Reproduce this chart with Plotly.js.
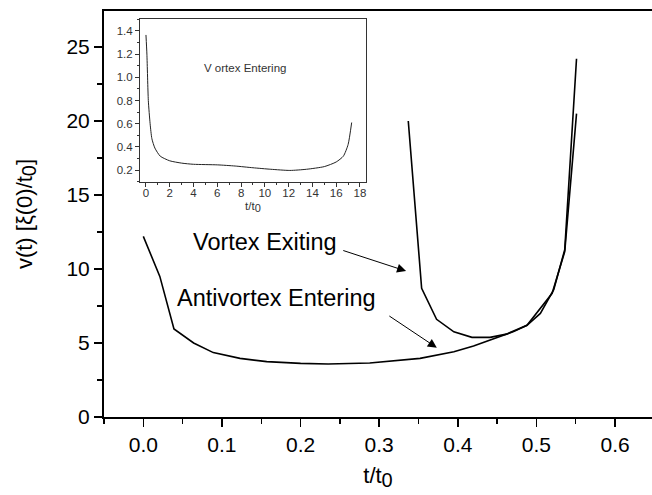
<!DOCTYPE html>
<html>
<head>
<meta charset="utf-8">
<script src="https://cdn.plot.ly/plotly-3.0.1.min.js"></script>
<style>html,body{margin:0;padding:0;background:#fff;}#chart{width:652px;height:495px;}</style>
</head>
<body>
<div id="chart"></div>
<script>
// Antivortex Entering (lower curve)
const antiX = [0, 0.021, 0.039, 0.064, 0.089, 0.123, 0.157, 0.2, 0.235, 0.288, 0.352, 0.395, 0.42, 0.445, 0.471, 0.488, 0.505, 0.522, 0.536, 0.551];
const antiY = [12.2, 9.5, 5.95, 5.0, 4.35, 3.96, 3.74, 3.62, 3.58, 3.65, 3.96, 4.41, 4.8, 5.25, 5.77, 6.2, 7.0, 8.6, 11.3, 24.2];
// Vortex Exiting (U curve)
const exitX = [0.337, 0.345, 0.354, 0.373, 0.395, 0.418, 0.441, 0.462, 0.488, 0.52, 0.536, 0.551];
const exitY = [20.0, 14.9, 8.7, 6.6, 5.75, 5.38, 5.38, 5.6, 6.2, 8.36, 11.17, 20.5];
// Inset: Vortex Entering
const insetX = [0, 0.08, 0.2, 0.35, 0.5, 0.75, 1.2, 2, 3, 4, 6, 7.5, 9, 10.5, 12.1, 13.5, 15, 16, 16.6, 17, 17.3];
const insetY = [1.365, 1.2, 0.8, 0.6, 0.47, 0.39, 0.32, 0.28, 0.26, 0.25, 0.245, 0.235, 0.22, 0.207, 0.197, 0.207, 0.23, 0.27, 0.32, 0.42, 0.61];

const FONT = 'Liberation Sans, Arial, sans-serif';

const traces = [
  {x: antiX, y: antiY, type: 'scatter', mode: 'lines', line: {color: '#000', width: 1.6}, xaxis: 'x', yaxis: 'y', hoverinfo: 'skip'},
  {x: exitX, y: exitY, type: 'scatter', mode: 'lines', line: {color: '#000', width: 1.6}, xaxis: 'x', yaxis: 'y', hoverinfo: 'skip'},
  {x: insetX, y: insetY, type: 'scatter', mode: 'lines', line: {color: '#222', width: 1, shape: 'spline', smoothing: 0.6}, xaxis: 'x2', yaxis: 'y2', hoverinfo: 'skip'}
];

const layout = {
  width: 652, height: 495,
  margin: {l: 104, r: 0, t: 11, b: 78},
  paper_bgcolor: '#fff', plot_bgcolor: 'rgba(0,0,0,0)',
  showlegend: false,
  font: {family: FONT, color: '#000'},
  xaxis: {
    domain: [0, 1], range: [-0.05, 0.647], anchor: 'y',
    tick0: 0, dtick: 0.1, tickformat: '.1f',
    ticks: 'outside', ticklen: 8, tickwidth: 1.5, tickcolor: '#000',
    minor: {dtick: 0.05, tick0: 0, ticks: 'outside', ticklen: 5, tickwidth: 1.5, tickcolor: '#000'},
    showline: true, linewidth: 2, linecolor: '#000', mirror: true,
    showgrid: false, zeroline: false,
    tickfont: {size: 21, family: FONT},
    title: {text: 't/t<sub><span style="font-size:20px">0</span></sub>', font: {size: 22, family: FONT}, standoff: 12}
  },
  yaxis: {
    domain: [0, 1], range: [0, 27.43], anchor: 'x',
    tick0: 0, dtick: 5,
    ticks: 'outside', ticklen: 8, tickwidth: 1.5, tickcolor: '#000',
    minor: {dtick: 2.5, tick0: 0, ticks: 'outside', ticklen: 5, tickwidth: 1.5, tickcolor: '#000'},
    showline: true, linewidth: 2, linecolor: '#000',
    showgrid: false, zeroline: false,
    tickfont: {size: 21, family: FONT},
    title: {text: 'v(t) [ξ(0)/t<sub><span style="font-size:20px">0</span></sub>]', font: {size: 22, family: FONT}, standoff: 28}
  },
  xaxis2: {
    domain: [0.0657, 0.478], range: [-0.5, 18.5], anchor: 'y2',
    tick0: 0, dtick: 2,
    ticks: 'outside', ticklen: 4, tickwidth: 1, tickcolor: '#333',
    minor: {dtick: 1, ticks: 'outside', ticklen: 2, tickwidth: 1, tickcolor: '#333'},
    showline: true, linewidth: 1, linecolor: '#333', mirror: true,
    showgrid: false, zeroline: false,
    ticklabelstandoff: -3,
    tickfont: {size: 11.5, family: FONT, color: '#333'},
    title: {text: 't/t<sub><span style="font-size:11px">0</span></sub>', font: {size: 11.5, family: FONT, color: '#333'}, standoff: 3}
  },
  yaxis2: {
    domain: [0.5796, 0.9796], range: [0.1, 1.5], anchor: 'x2',
    tick0: 0, dtick: 0.2, tickformat: '.1f',
    ticks: 'outside', ticklen: 4, tickwidth: 1, tickcolor: '#333',
    minor: {dtick: 0.1, ticks: 'outside', ticklen: 2, tickwidth: 1, tickcolor: '#333'},
    showline: true, linewidth: 1, linecolor: '#333', mirror: true,
    showgrid: false, zeroline: false,
    tickfont: {size: 11.5, family: FONT, color: '#333'}
  },
  annotations: [
    {xref: 'x', yref: 'y', x: 0.0603, y: 11.8, text: 'Vortex Exiting', showarrow: false, xanchor: 'left', yanchor: 'middle', font: {size: 23.5, family: FONT, color: '#000'}},
    {xref: 'x', yref: 'y', x: 0.0403, y: 8.05, text: 'Antivortex Entering', showarrow: false, xanchor: 'left', yanchor: 'middle', font: {size: 23.5, family: FONT, color: '#000'}},
    {xref: 'x', yref: 'y', x: 0.3342, y: 9.86, axref: 'x', ayref: 'y', ax: 0.2524, ay: 11.28, text: '', showarrow: true, arrowhead: 2, arrowsize: 1.8, arrowwidth: 1, arrowcolor: '#000'},
    {xref: 'x', yref: 'y', x: 0.3733, y: 4.68, axref: 'x', ayref: 'y', ax: 0.311, ay: 6.89, text: '', showarrow: true, arrowhead: 2, arrowsize: 1.8, arrowwidth: 1, arrowcolor: '#000'},
    {xref: 'x2', yref: 'y2', x: 8.3, y: 1.08, text: 'V ortex Entering', showarrow: false, xanchor: 'center', yanchor: 'middle', font: {size: 11.5, family: FONT, color: '#333'}}
  ]
};

Plotly.newPlot('chart', traces, layout, {displayModeBar: false, staticPlot: true});
</script>
</body>
</html>
